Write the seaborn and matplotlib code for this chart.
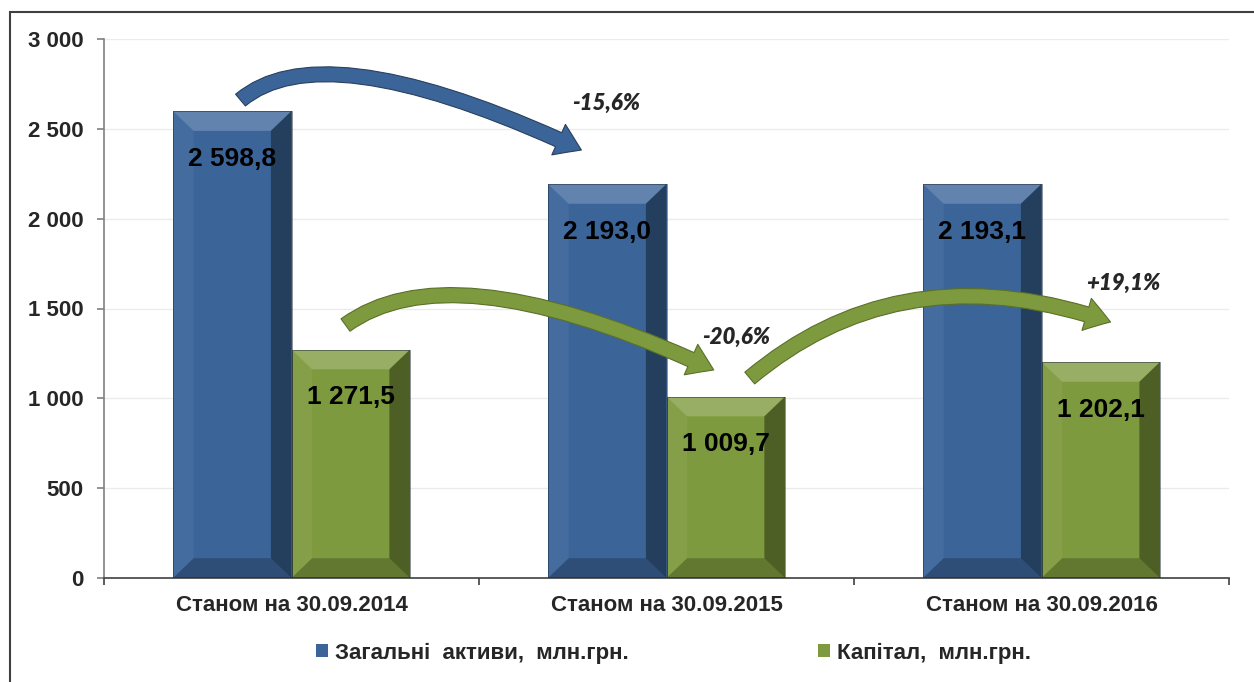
import pandas as pd
import numpy as np
import matplotlib
matplotlib.use("Agg")
import matplotlib.pyplot as plt
import seaborn as sns
from matplotlib.patches import FancyArrowPatch, Polygon, Rectangle
from matplotlib.ticker import FuncFormatter, FixedLocator

# data
categories = ["Станом на 30.09.2014", "Станом на 30.09.2015", "Станом на 30.09.2016"]
assets = [2598.8, 2193.0, 2193.1]
capital = [1271.5, 1009.7, 1202.1]
series_names = ["Загальні  активи,  млн.грн.", "Капітал,  млн.грн."]
change_labels = ["-15,6%", "-20,6%", "+19,1%"]

df = pd.DataFrame({
    "cat": categories * 2,
    "series": [series_names[0]] * 3 + [series_names[1]] * 3,
    "value": assets + capital,
})

blue = "#3B6599"
green = "#7E9A3E"

sns.set_theme(style="white")
plt.rcParams["font.family"] = ["Liberation Sans", "DejaVu Sans"]

fig = plt.figure(figsize=(12.54, 6.82), dpi=100)
ax = fig.add_axes([104 / 1254, 1 - 578 / 682, 1125 / 1254, 539 / 682])

sns.barplot(data=df, x="cat", y="value", hue="series", palette=[blue, green],
            width=0.632, gap=0, ax=ax, edgecolor="none", saturation=1)


def fmt_num(v, dec=1):
    s = f"{v:,.{dec}f}".replace(",", " ").replace(".", ",")
    return s


# bevel look + value labels
dx, dy = 0.055, 110
for cont in ax.containers:
    for bar in cont:
        x0, w, h = bar.get_x(), bar.get_width(), bar.get_height()
        x1 = x0 + w
        ax.add_patch(Polygon([(x0, h), (x1, h), (x1 - dx, h - dy), (x0 + dx, h - dy)],
                             closed=True, fc="white", alpha=0.2, ec="none", zorder=3))
        ax.add_patch(Polygon([(x1, h), (x1, 0), (x1 - dx, dy), (x1 - dx, h - dy)],
                             closed=True, fc="black", alpha=0.38, ec="none", zorder=3))
        ax.add_patch(Polygon([(x0, 0), (x1, 0), (x1 - dx, dy), (x0 + dx, dy)],
                             closed=True, fc="black", alpha=0.22, ec="none", zorder=3))
        ax.add_patch(Polygon([(x0, 0), (x0, h), (x0 + dx, h - dy), (x0 + dx, dy)],
                             closed=True, fc="white", alpha=0.05, ec="none", zorder=3))
        ax.add_patch(Rectangle((x0, 0), w, h, fill=False, ec="#1d2a3a", lw=0.6, alpha=0.6, zorder=4))
        ax.text(x0 + w / 2, h - 265, fmt_num(h), ha="center", va="center",
                fontsize=19, fontweight="bold", color="black", zorder=5)

# curved arrows
arrows = [
    ((-0.136, 2660), (0.773, 2382), 40, 155, blue),
    ((0.144, 1408), (1.126, 1158), 36, 155, green),
    ((1.222, 1113), (2.184, 1425), 40, 161, green),
]
for (a, b, angA, angB, col) in arrows:
    arr = FancyArrowPatch(a, b, connectionstyle=f"angle3,angleA={angA},angleB={angB}",
                          arrowstyle="simple,head_width=24,head_length=18,tail_width=11",
                          mutation_scale=1, shrinkA=0, shrinkB=0,
                          fc=col, ec="#2a3f5c" if col == blue else "#5a7028", lw=0.8, zorder=6)
    ax.add_patch(arr)

label_pos = [(0.84, 2644), (1.187, 1341), (2.217, 1642)]
for (x, y), t in zip(label_pos, change_labels):
    ax.text(x, y, t, ha="center", va="center", fontsize=16, fontweight="heavy",
            fontstyle="italic", family=["Lato", "DejaVu Sans"], zorder=7)

# axes styling
ax.set_xlim(-0.5, 2.5)
ax.set_ylim(0, 3000)
ax.set_yticks(np.arange(0, 3001, 500))
ax.yaxis.set_major_formatter(FuncFormatter(lambda v, p: fmt_num(v, 0)))
ax.grid(axis="y", color="#EBEBEB", lw=1)
ax.set_axisbelow(True)
ax.set_xlabel("")
ax.set_ylabel("")
for s in ["top", "right"]:
    ax.spines[s].set_visible(False)
ax.spines["left"].set_color("#808080")
ax.spines["bottom"].set_color("#404040")
ax.spines["left"].set_linewidth(1.2)
ax.spines["bottom"].set_linewidth(1.2)

ax.tick_params(axis="y", which="major", left=True, length=5, width=1.2, color="#808080",
               pad=10, labelsize=16)
ax.tick_params(axis="x", which="major", bottom=False, length=0, pad=12, labelsize=16)
ax.xaxis.set_minor_locator(FixedLocator([-0.5, 0.5, 1.5, 2.5]))
ax.tick_params(axis="x", which="minor", bottom=True, length=5, width=1.2, color="#404040")
for lab in ax.get_yticklabels() + ax.get_xticklabels():
    lab.set_fontweight("bold")

# legend
handles, labels = ax.get_legend_handles_labels()
ax.legend_.remove()
fig.legend(handles, labels, loc="center", bbox_to_anchor=(0.537, 1 - 653 / 682), ncol=2,
           frameon=False, handlelength=0.55, handleheight=0.55, handletextpad=0.3,
           columnspacing=8.5, prop={"weight": "bold", "size": 16})

# outer frame
fig.patches.append(Rectangle((10 / 1254, -0.02), 1.0, 0.982 + 0.02, transform=fig.transFigure,
                             fill=False, ec="#404040", lw=1.5))

fig.savefig("out.png", dpi=100)
